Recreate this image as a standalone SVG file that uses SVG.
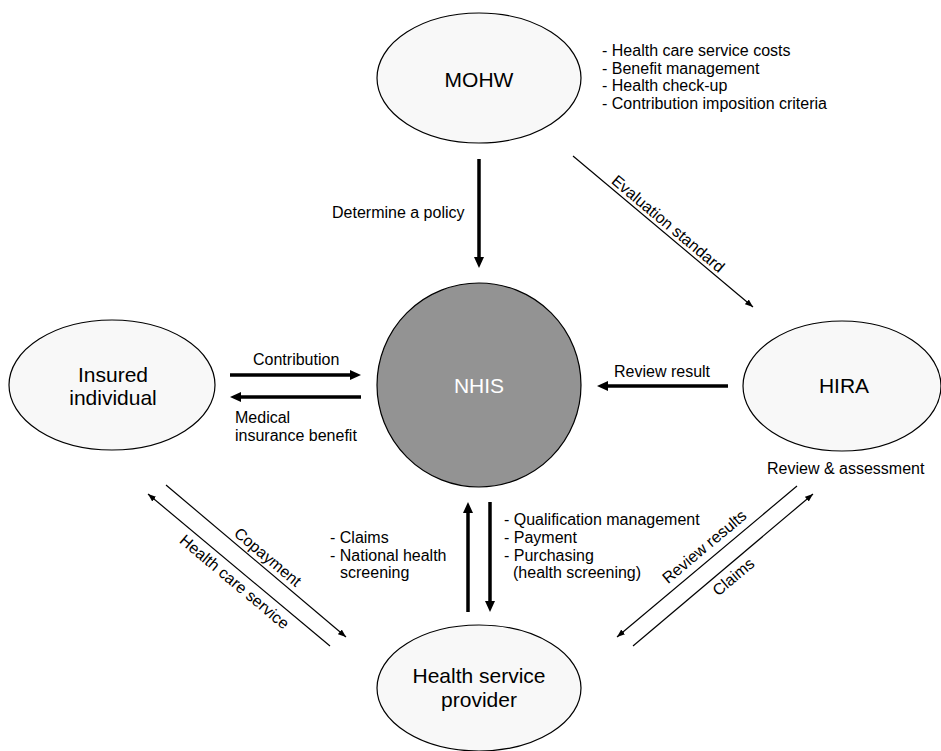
<svg xmlns="http://www.w3.org/2000/svg" width="941" height="751" viewBox="0 0 941 751">
<style>
.node{fill:#f8f8f8;stroke:#000;stroke-width:1.2}
.hub{fill:#939393;stroke:#000;stroke-width:1.2}
.nt{font-family:"Liberation Sans",Arial,sans-serif;font-size:21px;fill:#000;text-anchor:middle}
.lb{font-family:"Liberation Sans",Arial,sans-serif;font-size:16px;fill:#000}
.thick{stroke:#000;stroke-width:3.5;fill:none}
.thin{stroke:#000;stroke-width:1.2;fill:none}
</style>
<defs>
<marker id="hb" markerUnits="userSpaceOnUse" markerWidth="12" markerHeight="11" refX="1" refY="5" orient="auto">
<path d="M0,0 L11,5 L0,10 z" fill="#000"/>
</marker>
<marker id="hs" markerUnits="userSpaceOnUse" markerWidth="9" markerHeight="7" refX="8" refY="3" orient="auto">
<path d="M0,0 L8,3 L0,6 z" fill="#000"/>
</marker>
</defs>
<rect width="941" height="751" fill="#fff"/>

<g id="connectors">
<line class="thick" x1="479" y1="159" x2="479" y2="258" marker-end="url(#hb)"/>
<line class="thick" x1="230" y1="375" x2="351" y2="375" marker-end="url(#hb)"/>
<line class="thick" x1="361" y1="397" x2="240" y2="397" marker-end="url(#hb)"/>
<line class="thick" x1="728" y1="386" x2="607" y2="386" marker-end="url(#hb)"/>
<line class="thick" x1="468" y1="612" x2="468" y2="512" marker-end="url(#hb)"/>
<line class="thick" x1="490" y1="502" x2="490" y2="602" marker-end="url(#hb)"/>
<line class="thin" x1="573" y1="156" x2="753" y2="307" marker-end="url(#hs)"/>
<line class="thin" x1="166" y1="485" x2="346" y2="637" marker-end="url(#hs)"/>
<line class="thin" x1="330" y1="646" x2="148" y2="494" marker-end="url(#hs)"/>
<line class="thin" x1="797" y1="486" x2="617" y2="637" marker-end="url(#hs)"/>
<line class="thin" x1="633" y1="646" x2="813" y2="494" marker-end="url(#hs)"/>

<text class="lb" x="332" y="218">Determine a policy</text>
<text class="lb" x="253" y="365">Contribution</text>
<text class="lb" x="235" y="423">Medical</text>
<text class="lb" x="235" y="441">insurance benefit</text>
<text class="lb" x="614" y="377">Review result</text>
<text class="lb" text-anchor="middle" transform="translate(662,231) rotate(40)" y="-4">Evaluation standard</text>
<text class="lb" text-anchor="middle" transform="translate(261,565) rotate(40)" y="-5">Copayment</text>
<text class="lb" text-anchor="middle" transform="translate(242,573) rotate(40)" y="17">Health care service</text>
<text class="lb" text-anchor="middle" transform="translate(713,557) rotate(-40)" y="-8">Review results</text>
<text class="lb" text-anchor="middle" transform="translate(726,568) rotate(-40)" y="17">Claims</text>
<text class="lb" x="330" y="543">- Claims</text>
<text class="lb" x="330" y="561">- National health</text>
<text class="lb" x="340" y="578">screening</text>
<text class="lb" x="504" y="525">- Qualification management</text>
<text class="lb" x="504" y="543">- Payment</text>
<text class="lb" x="504" y="561">- Purchasing</text>
<text class="lb" x="513" y="578">(health screening)</text>
</g>

<g id="mohw">
<ellipse class="node" cx="479" cy="78" rx="102" ry="65"/>
<text class="nt" x="479" y="87">MOHW</text>
<text class="lb" x="602" y="56">- Health care service costs</text>
<text class="lb" x="602" y="73.7">- Benefit management</text>
<text class="lb" x="602" y="91.4">- Health check-up</text>
<text class="lb" x="602" y="109">- Contribution imposition criteria</text>
</g>

<g id="nhis">
<circle class="hub" cx="479" cy="385" r="102"/>
<text class="nt" x="479" y="393" fill="#fff" style="fill:#fff">NHIS</text>
</g>

<g id="insured">
<ellipse class="node" cx="112" cy="385" rx="103" ry="65"/>
<text class="nt" x="113" y="382">Insured</text>
<text class="nt" x="113" y="405">individual</text>
</g>

<g id="hira">
<ellipse class="node" cx="842" cy="386" rx="99" ry="65"/>
<text class="nt" x="844" y="393">HIRA</text>
<text class="lb" x="767" y="474">Review &amp; assessment</text>
</g>

<g id="provider">
<ellipse class="node" cx="479" cy="688" rx="102" ry="63"/>
<text class="nt" x="479" y="683">Health service</text>
<text class="nt" x="479" y="707">provider</text>
</g>
</svg>
